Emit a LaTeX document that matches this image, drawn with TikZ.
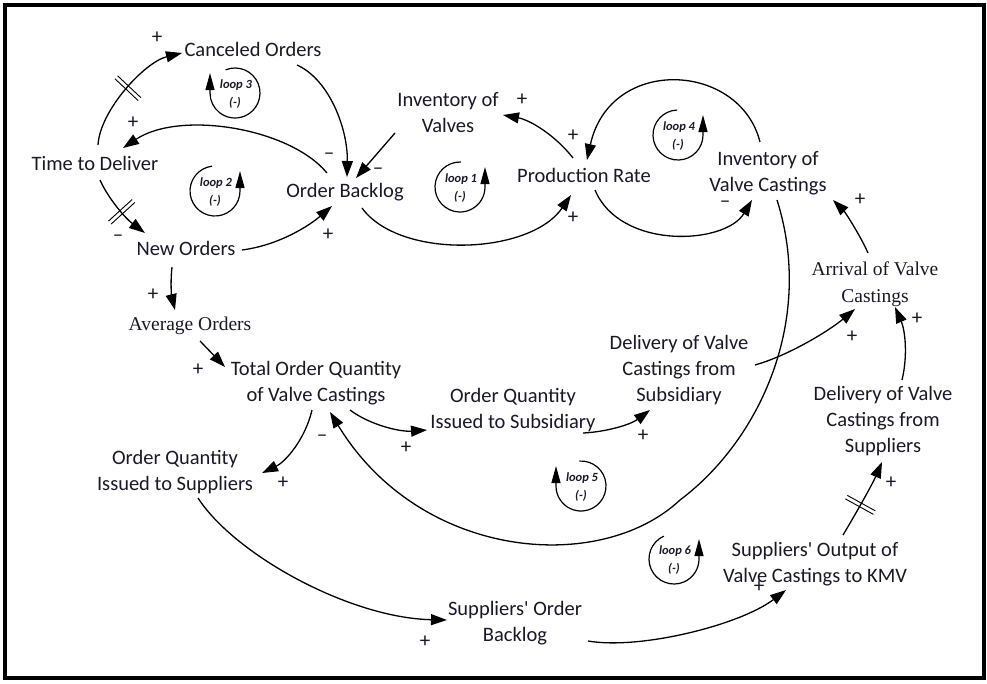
\documentclass[tikz,border=0pt]{standalone}
\usepackage{fontspec}
\setmainfont{Carlito}
\newfontfamily\serifvar{Liberation Serif}
\usetikzlibrary{arrows.meta,calc,decorations.markings}
\definecolor{ink}{RGB}{24,24,40}

\begin{document}
\begin{tikzpicture}[x=1pt,y=-1pt,
  var/.style={font=\fontsize{20.5}{26}\selectfont, text=ink, align=center, inner sep=0pt},
  tvar/.style={font=\serifvar\fontsize{19.5}{27}\selectfont, text=ink, align=center, inner sep=0pt},
  link/.style={line width=1.3pt, -{Triangle[length=16pt,width=11pt]}},
  pol/.style={font=\fontsize{21}{21}\selectfont, text=ink, inner sep=0pt},
  looparrow/.style={line width=1.2pt, -{Triangle[length=17pt,width=9pt]}},
  looplbl/.style={font=\bfseries\itshape\fontsize{12.5}{12.5}\selectfont, text=ink, inner sep=0pt},
  delaymark/.style={postaction={decorate}, decoration={markings,
      mark=at position #1 with {\draw[-, line width=0.9pt] (-2pt,-16pt) -- (-2pt,16pt);
                               \draw[-, line width=0.9pt] (2pt,-16pt) -- (2pt,16pt);}}}
]
\useasboundingbox (0,0) rectangle (987,683);
\draw[line width=3.5pt] (5,5) rectangle (984,678);

% variables
\node[var]  (co)    at (253,49)  {Canceled Orders};
\node[var]  (tod)   at (95,163)  {Time to Deliver};
\node[var]  (ob)    at (345,192) {Order Backlog};
\node[var]  (no)    at (186,248) {New Orders};
\node[var]  (iv)    at (448,113) {Inventory of\\Valves};
\node[var]  (pr)    at (584,175) {Production Rate};
\node[var]  (ivc)   at (768,173) {Inventory of\\Valve Castings};
\node[tvar] (avc)   at (875,284) {Arrival of Valve\\Castings};
\node[tvar] (ao)    at (190,326) {Average Orders};
\node[var]  (toq)   at (316,383) {Total Order Quantity\\of Valve Castings};
\node[var]  (oqs)   at (513,410) {Order Quantity\\Issued to Subsidiary};
\node[var]  (dvs)   at (679,370) {Delivery of Valve\\Castings from\\Subsidiary};
\node[var]  (dsp)   at (883,421) {Delivery of Valve\\Castings from\\Suppliers};
\node[var]  (oqp)   at (175,472) {Order Quantity\\Issued to Suppliers};
\node[var]  (sov)   at (815,564) {Suppliers\textquotesingle{} Output of\\Valve Castings to KMV};
\node[var]  (sob)   at (515,623) {Suppliers\textquotesingle{} Order\\Backlog};

% causal links
\draw[link, delaymark=0.5] ($(tod)+(3,-18)$) .. controls (100,110) and (145,62) .. ($(co)+(-71,4)$);
\draw[link] ($(co)+(44,16)$) .. controls (330,80) and (348,130) .. ($(ob)+(2,-15)$);
\draw[link] ($(iv)+(-53,20)$) -- ($(ob)+(11,-14)$);
\draw[link] ($(ob)+(-18,-19)$) .. controls (290,128) and (180,110) .. ($(tod)+(28,-15)$);
\draw[link, delaymark=0.55] ($(tod)+(5,17)$) .. controls (108,198) and (125,218) .. ($(no)+(-41,-15)$);
\draw[link] ($(no)+(56,2)$) .. controls (280,245) and (310,225) .. ($(ob)+(-13,14)$);
\draw[link] ($(ob)+(17,16)$) .. controls (400,260) and (530,255) .. ($(pr)+(-13,20)$);
\draw[link] ($(pr)+(-11,-17)$) .. controls (555,135) and (530,120) .. ($(iv)+(55,2)$);
\draw[link] ($(ivc)+(-8,-31)$) .. controls (740,62) and (610,55) .. ($(pr)+(3,-15)$);
\draw[link] ($(pr)+(11,15)$) .. controls (620,250) and (725,245) .. ($(ivc)+(-16,27)$);
\draw[link] ($(avc)+(-7,-31)$) .. controls (860,235) and (845,212) .. ($(ivc)+(65,27)$);
\draw[link] ($(ivc)+(9,27)$) .. controls (815,320) and (760,440) .. (680,500)
            .. controls (600,575) and (420,560) .. ($(toq)+(14,29)$);
\draw[link] ($(toq)+(34,27)$) .. controls (370,425) and (400,432) .. ($(oqs)+(-86,20)$);
\draw[link] ($(oqs)+(70,23)$) .. controls (605,432) and (630,425) .. ($(dvs)+(-29,40)$);
\draw[link] ($(dvs)+(76,-5)$) .. controls (790,355) and (830,330) .. ($(avc)+(-20,25)$);
\draw[link] ($(dsp)+(19,-41)$) .. controls (908,355) and (905,330) .. ($(avc)+(20,23)$);
\draw[link, delaymark=0.42] ($(sov)+(28,-29)$) .. controls (855,515) and (872,485) .. ($(dsp)+(-1,41)$);
\draw[link] ($(toq)+(-4,27)$) .. controls (305,440) and (285,462) .. ($(oqp)+(87,1)$);
\draw[link] ($(oqp)+(23,26)$) .. controls (235,555) and (350,618) .. ($(sob)+(-68,-3)$);
\draw[link] ($(sob)+(73,18)$) .. controls (640,650) and (740,625) .. ($(sov)+(-29,26)$);
\draw[link] ($(no)+(-14,19)$) .. controls (170,285) and (172,298) .. ($(ao)+(-15,-16)$);
\draw[link] ($(ao)+(10,15)$) -- ($(toq)+(-91,-16)$);

% link polarities
\node[pol] (s1)  at (157,38)  {+};
\node[pol] (s2)  at (329,156) {\textendash};
\node[pol] (s3)  at (378,171) {\textendash};
\node[pol] (s4)  at (133,123) {+};
\node[pol] (s5)  at (118,238) {\textendash};
\node[pol] (s6)  at (328,235) {+};
\node[pol] (s7)  at (573,218) {+};
\node[pol] (s8)  at (522,100) {+};
\node[pol] (s9)  at (573,136) {+};
\node[pol] (s10) at (725,204) {\textendash};
\node[pol] (s11) at (860,200) {+};
\node[pol] (s12) at (322,438) {\textendash};
\node[pol] (s13) at (406,448) {+};
\node[pol] (s14) at (643,436) {+};
\node[pol] (s15) at (852,337) {+};
\node[pol] (s16) at (917,319) {+};
\node[pol] (s17) at (891,483) {+};
\node[pol] (s18) at (283,483) {+};
\node[pol] (s19) at (425,642) {+};
\node[pol] (s20) at (759,587) {+};
\node[pol] (s21) at (153,295) {+};
\node[pol] (s22) at (198,370) {+};

% loop markers
\coordinate (l1) at (460,187);
\coordinate (l2) at (215,191);
\coordinate (l3) at (235,93);
\coordinate (l4) at (678,135);
\coordinate (l5) at (581,486);
\coordinate (l6) at (674,559);
\draw[looparrow] ($(l3)+(-112:25)$) arc[start angle=-112, end angle=180, radius=25] -- ++(0,-20);
\draw[looparrow] ($(l5)+(-94:25)$)  arc[start angle=-94,  end angle=180, radius=25] -- ++(0,-20);
\draw[looparrow] ($(l2)+(-97:25)$)  arc[start angle=-97,  end angle=-360, radius=25] -- ++(0,-20);
\draw[looparrow] ($(l1)+(-88:25)$)  arc[start angle=-88,  end angle=-360, radius=25] -- ++(0,-20);
\draw[looparrow] ($(l4)+(-92:25)$)  arc[start angle=-92,  end angle=-360, radius=25] -- ++(0,-20);
\draw[looparrow] ($(l6)+(-114:25)$) arc[start angle=-114, end angle=-360, radius=25] -- ++(0,-20);
\foreach \c/\n in {l1/1, l2/2, l3/3, l4/4, l5/5, l6/6} {
  \node[looplbl] (\c a) at ($(\c)+(1,-8)$) {loop \n};
  \node[looplbl] (\c b) at ($(\c)+(0,10)$) {(-)};
}
\end{tikzpicture}
\end{document}
